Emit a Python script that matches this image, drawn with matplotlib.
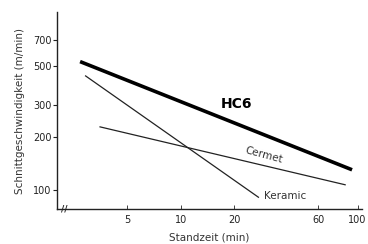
import matplotlib
matplotlib.use("Agg")
import matplotlib.pyplot as plt
from matplotlib.ticker import FixedLocator, NullLocator

# Data
hc6_x = [2.7, 93]
hc6_y = [530, 130]
keramic_x = [2.9, 27.5]
keramic_y = [440, 91]
cermet_x = [3.5, 85]
cermet_y = [227, 107]

xticks = [5, 10, 20, 60, 100]
yticks = [100, 200, 300, 500, 700]

fig = plt.figure(figsize=(3.68, 2.44), dpi=100)
ax = fig.add_axes([0.155, 0.143, 0.829, 0.808])
ax.set_xscale("log")
ax.set_yscale("log")
ax.set_xlim(2.0, 106)
ax.set_ylim(78, 1010)

ink = "#222222"
ax.plot(hc6_x, hc6_y, color="black", lw=2.6, solid_capstyle="butt")
ax.plot(keramic_x, keramic_y, color=ink, lw=0.9)
ax.plot(cermet_x, cermet_y, color=ink, lw=0.9)

ax.text(20.8, 305, "HC6", fontsize=10, fontweight="bold", ha="center", va="center", color="black")
ax.text(29.5, 158, "Cermet", fontsize=7.5, ha="center", va="center", rotation=-15, color="#333333")
ax.text(39, 92, "Keramic", fontsize=7.5, ha="center", va="center", color="#333333")

for s in ["top", "right"]:
    ax.spines[s].set_visible(False)
for s in ["left", "bottom"]:
    ax.spines[s].set_color(ink)
    ax.spines[s].set_linewidth(1.0)

ax.xaxis.set_major_locator(FixedLocator(xticks))
ax.xaxis.set_minor_locator(NullLocator())
ax.set_xticklabels([str(t) for t in xticks])
ax.yaxis.set_major_locator(FixedLocator(yticks))
ax.yaxis.set_minor_locator(NullLocator())
ax.set_yticklabels([str(t) for t in yticks])
ax.tick_params(axis="x", direction="in", length=3, width=0.6, labelsize=7, colors=ink, pad=4)
ax.tick_params(axis="y", direction="out", length=3, width=0.8, labelsize=7, colors=ink, pad=1)

ax.set_xlabel("Standzeit (min)", fontsize=7.5, color="#333333", labelpad=6)
ax.set_ylabel("Schnittgeschwindigkeit (m/min)", fontsize=7.5, color="#333333", labelpad=6)

# axis break mark
ax.text(2.2, 78, "//", fontsize=6.5, fontweight="bold", ha="center", va="center", color=ink, clip_on=False)

fig.savefig("out.png", dpi=100)
